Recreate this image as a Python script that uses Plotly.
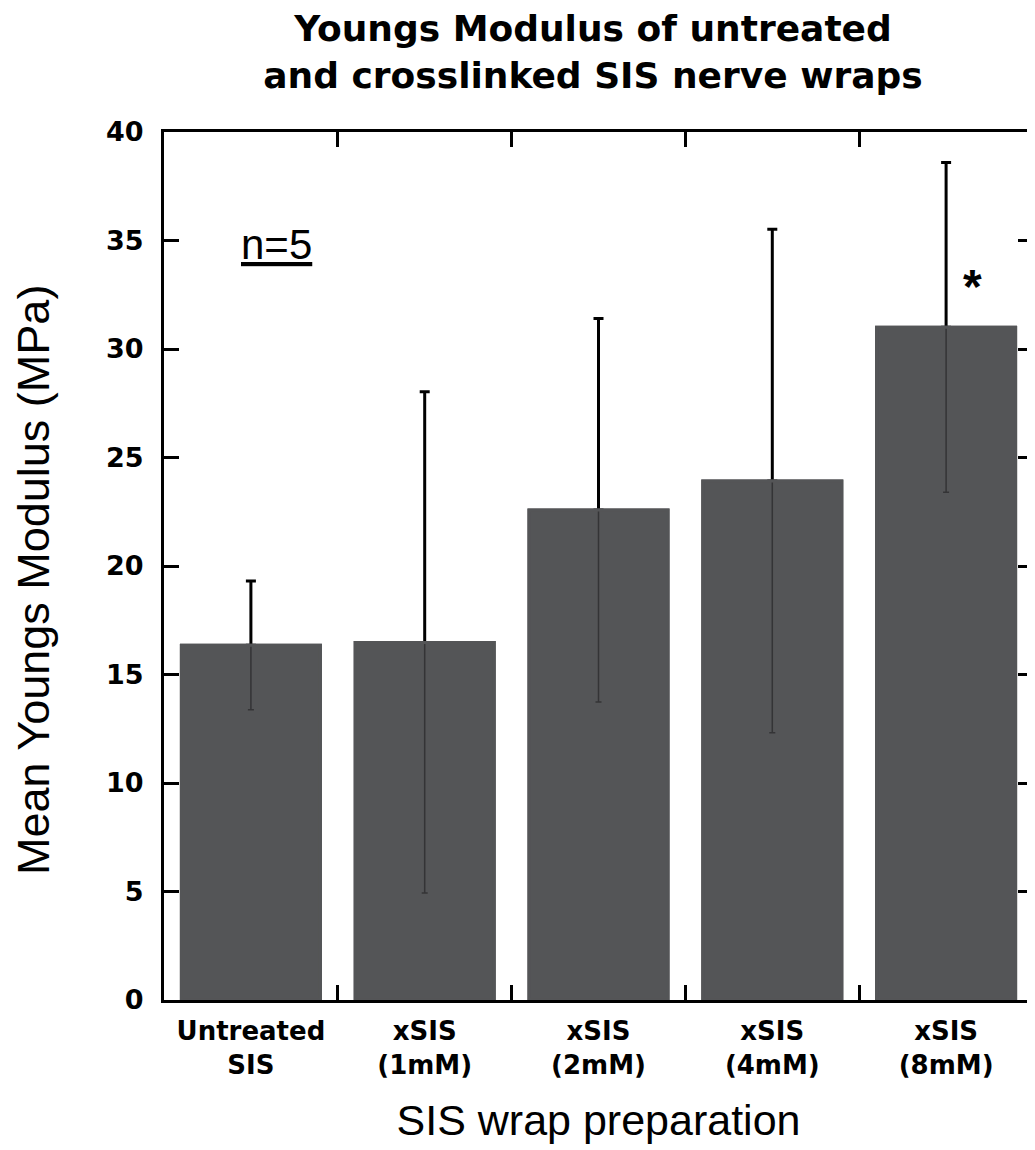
import plotly.graph_objects as go

categories = ["Untreated<br>SIS", "xSIS<br>(1mM)", "xSIS<br>(2mM)", "xSIS<br>(4mM)", "xSIS<br>(8mM)"]
means = [16.35, 16.47, 22.58, 23.92, 31.0]
err_plus = [2.96, 11.56, 8.83, 11.6, 7.6]
err_minus = [2.97, 11.54, 8.85, 11.6, 7.6]
y_ticks = [0, 5, 10, 15, 20, 25, 30, 35, 40]

FONT = "Liberation Sans, Arial, sans-serif"
BOLD = "DejaVu Sans, Liberation Sans, sans-serif"
BAR_COLOR = "#545557"
BAR_W = 0.80

fig = go.Figure()
# A: upper whiskers (beneath the filled bars)
fig.add_trace(go.Bar(
    x=categories, y=means, width=BAR_W,
    marker=dict(color="rgba(0,0,0,0)", line=dict(width=0)),
    error_y=dict(type="data", symmetric=False, array=err_plus, arrayminus=[],
                 color="black", thickness=3, width=5),
    showlegend=False, hoverinfo="skip",
))
# B: filled bars
fig.add_trace(go.Bar(
    x=categories, y=means, width=BAR_W,
    marker=dict(color=BAR_COLOR, line=dict(color=BAR_COLOR, width=3)),
    showlegend=False,
))
# C: lower whiskers (thin, over the bars)
fig.add_trace(go.Bar(
    x=categories, y=means, width=BAR_W,
    marker=dict(color="rgba(0,0,0,0)", line=dict(width=0)),
    error_y=dict(type="data", symmetric=False, array=[], arrayminus=err_minus,
                 color="#343436", thickness=1.5, width=3),
    showlegend=False, hoverinfo="skip",
))
# D: bar outline covering the whisker joint at the bar top
fig.add_trace(go.Bar(
    x=categories, y=means, width=BAR_W,
    marker=dict(color="rgba(0,0,0,0)", line=dict(color=BAR_COLOR, width=3)),
    showlegend=False, hoverinfo="skip",
))

fig.add_annotation(x=0.15, y=34.8, xref="x", yref="y", text="<u>n=5</u>", showarrow=False,
                   font=dict(family=FONT, size=42, color="black"))
fig.add_annotation(x=4.15, y=32.9, xref="x", yref="y", text="<b>*</b>", showarrow=False,
                   font=dict(family=FONT, size=48, color="black"))
fig.add_annotation(x=-0.1496, y=0.4839, xref="paper", yref="paper", xanchor="center", yanchor="middle",
                   text="Mean Youngs Modulus (MPa)", textangle=-90, showarrow=False,
                   font=dict(family=FONT, size=45, color="black"))

fig.update_layout(
    width=1027, height=1142,
    margin=dict(l=156, r=2, t=124, b=150, autoexpand=False),
    paper_bgcolor="white", plot_bgcolor="white",
    barmode="overlay",
    title=dict(text="<b>Youngs Modulus of untreated<br>and crosslinked SIS nerve wraps</b>",
               x=0.5696, xanchor="center", y=0.9712, yanchor="top",
               font=dict(family=BOLD, size=36, color="black")),
    font=dict(family=FONT, color="black"),
)
fig.update_xaxes(
    type="category", range=[-0.5, 4.5], tickson="boundaries",
    ticks="inside", ticklen=15, tickwidth=3, tickcolor="black",
    showline=True, linewidth=3, linecolor="black", mirror="ticks",
    showgrid=False, zeroline=False, ticklabelstandoff=6,
    tickfont=dict(family=BOLD, size=26, color="black", weight="bold"),
    title=dict(text="SIS wrap preparation", standoff=26,
               font=dict(family=FONT, size=43, color="black")),
)
fig.update_yaxes(
    range=[0, 40], tickmode="array", tickvals=y_ticks,
    ticks="inside", ticklen=15, tickwidth=3, tickcolor="black",
    showline=True, linewidth=3, linecolor="black", mirror="ticks",
    showgrid=False, zeroline=False, ticklabelstandoff=12,
    tickfont=dict(family=BOLD, size=27, color="black", weight="bold"),
)

fig.write_html("out.html")
